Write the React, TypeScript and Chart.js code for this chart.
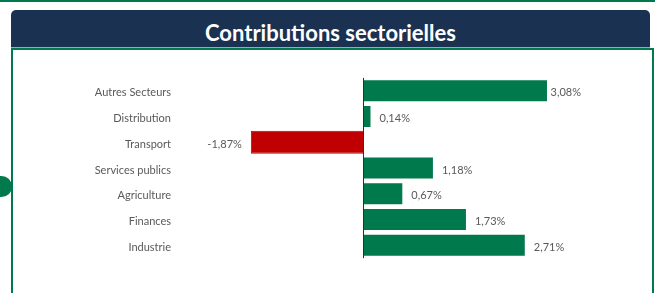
import React, { useEffect, useRef } from "react";
import { Chart, registerables } from "chart.js";

Chart.register(...registerables);

const categories = [
  "Autres Secteurs",
  "Distribution",
  "Transport",
  "Services publics",
  "Agriculture",
  "Finances",
  "Industrie",
];
const contributions = [3.08, 0.14, -1.87, 1.18, 0.67, 1.73, 2.71];
const axisMin = -3.05;
const axisMax = 3.63;
const chartTitle = "Contributions sectorielles";

const GREEN = "#00794c";
const RED = "#c00000";
const NAVY = "#1b3152";
const GREY = "#595959";
const FONT = "Lato, 'Open Sans', sans-serif";

const fmt = (v: number) => v.toFixed(2).replace(".", ",") + "%";

const valueLabels = {
  id: "valueLabels",
  afterDatasetsDraw(chart: any) {
    const ctx = chart.ctx;
    const area = chart.chartArea;
    const xs = chart.scales.x;
    const meta = chart.getDatasetMeta(0);
    const x0 = Math.round(xs.getPixelForValue(0)) + 0.5;
    ctx.save();
    ctx.strokeStyle = NAVY;
    ctx.lineWidth = 1;
    ctx.beginPath();
    ctx.moveTo(x0, area.top);
    ctx.lineTo(x0, area.bottom);
    ctx.stroke();
    ctx.font = `11px ${FONT}`;
    ctx.fillStyle = GREY;
    ctx.textBaseline = "middle";
    meta.data.forEach((bar: any, i: number) => {
      const v = contributions[i];
      const txt = fmt(v);
      const w = ctx.measureText(txt).width;
      const y = bar.y + 2;
      if (v >= 0) {
        ctx.textAlign = "left";
        const x = Math.min(bar.x + 8, area.right - w);
        ctx.fillText(txt, x, y);
      } else {
        ctx.textAlign = "right";
        ctx.fillText(txt, bar.x - 9, y);
      }
    });
    ctx.restore();
  },
};

export default function App() {
  const ref = useRef<HTMLCanvasElement | null>(null);

  useEffect(() => {
    if (!ref.current) return;
    const chart = new Chart(ref.current, {
      type: "bar",
      data: {
        labels: categories,
        datasets: [
          {
            data: contributions,
            backgroundColor: contributions.map((v) => (v < 0 ? RED : GREEN)),
            borderColor: contributions.map((v) =>
              v < 0 ? RED : "rgba(255,255,255,0.45)"
            ),
            borderWidth: 1,
            categoryPercentage: 1,
            barPercentage: 0.893,
          },
        ],
      },
      options: {
        indexAxis: "y",
        animation: false,
        responsive: false,
        devicePixelRatio: 1,
        layout: { padding: { left: 0, right: 71, top: 27.9, bottom: 34.8 } },
        plugins: {
          legend: { display: false },
          tooltip: { enabled: false },
          title: { display: false },
        },
        scales: {
          x: { display: false, min: axisMin, max: axisMax },
          y: {
            grid: { display: false, drawTicks: false },
            border: { display: false },
            ticks: {
              color: GREY,
              font: { family: FONT, size: 11 },
              padding: 9,
              labelOffset: 2,
            },
            afterFit(scale: any) {
              scale.width = 167;
            },
          },
        },
      },
      plugins: [valueLabels],
    } as any);
    return () => chart.destroy();
  }, []);

  return (
    <div
      style={{
        position: "absolute",
        left: 0,
        top: 0,
        width: 655,
        height: 293,
        overflow: "hidden",
        background: "#ffffff",
        fontFamily: FONT,
      }}
    >
      <div
        style={{
          position: "absolute",
          left: 0,
          top: 0,
          width: 655,
          height: 2,
          background: GREEN,
        }}
      />
      <div
        style={{
          position: "absolute",
          left: 11,
          top: 10,
          width: 639,
          height: 37,
          background: NAVY,
          borderRadius: "5px 5px 0 0",
          borderBottom: "1px solid #a6a6a6",
          color: "#ffffff",
          fontWeight: 700,
          fontSize: 22,
          textAlign: "center",
          lineHeight: "46px",
          boxSizing: "content-box",
        }}
      >
        {chartTitle}
      </div>
      <div
        style={{
          position: "absolute",
          left: 11,
          top: 48,
          width: 643,
          height: 260,
          border: `2px solid ${GREEN}`,
          boxSizing: "border-box",
        }}
      />
      <div
        style={{
          position: "absolute",
          left: 0,
          top: 176,
          width: 12,
          height: 21,
          background: GREEN,
          borderRadius: "0 12px 12px 0",
        }}
      />
      <canvas
        ref={ref}
        width={639}
        height={243}
        style={{ position: "absolute", left: 13, top: 50, width: 639, height: 243 }}
      />
    </div>
  );
}
